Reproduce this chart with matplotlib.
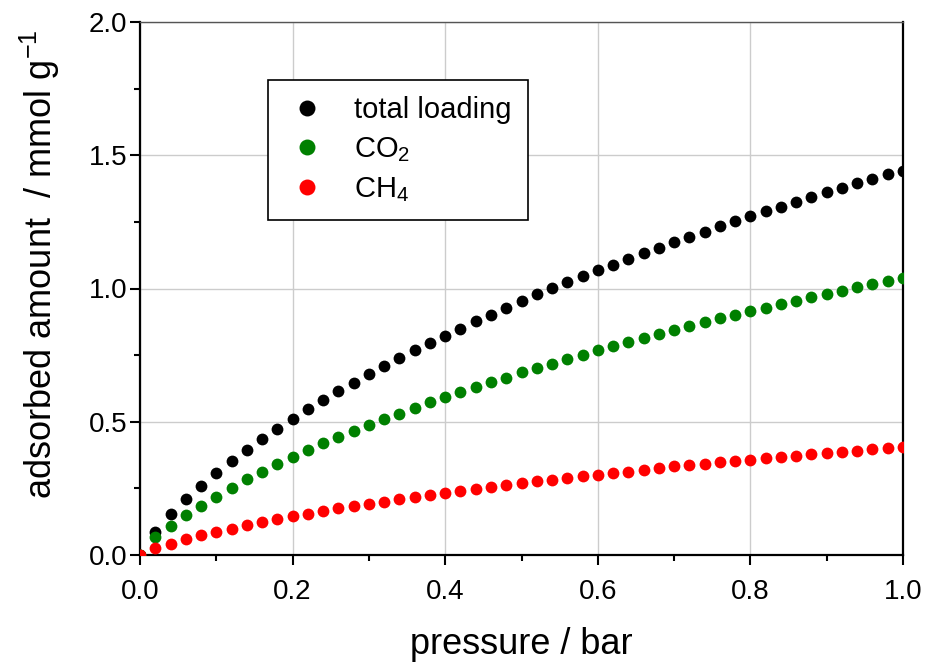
import matplotlib
matplotlib.use("Agg")
import matplotlib.pyplot as plt
from matplotlib.ticker import MultipleLocator
import numpy as np

plt.rcParams['font.family'] = ['Liberation Sans', 'DejaVu Sans']
plt.rcParams['mathtext.fontset'] = 'custom'
plt.rcParams['mathtext.rm'] = 'Liberation Sans'
plt.rcParams['mathtext.it'] = 'Liberation Sans:italic'

pressure = [0.00, 0.02, 0.04, 0.06, 0.08, 0.10, 0.12, 0.14, 0.16, 0.18,
            0.20, 0.22, 0.24, 0.26, 0.28, 0.30, 0.32, 0.34, 0.36, 0.38,
            0.40, 0.42, 0.44, 0.46, 0.48, 0.50, 0.52, 0.54, 0.56, 0.58,
            0.60, 0.62, 0.64, 0.66, 0.68, 0.70, 0.72, 0.74, 0.76, 0.78,
            0.80, 0.82, 0.84, 0.86, 0.88, 0.90, 0.92, 0.94, 0.96, 0.98, 1.00]

total = [0.000, 0.087, 0.153, 0.209, 0.259, 0.307, 0.352, 0.394, 0.434, 0.473,
         0.510, 0.547, 0.580, 0.614, 0.647, 0.678, 0.709, 0.738, 0.768, 0.794,
         0.822, 0.849, 0.877, 0.902, 0.927, 0.952, 0.978, 1.001, 1.023, 1.047,
         1.069, 1.089, 1.112, 1.132, 1.153, 1.173, 1.193, 1.213, 1.233, 1.253,
         1.271, 1.290, 1.307, 1.326, 1.342, 1.361, 1.378, 1.396, 1.412, 1.429, 1.442]

co2 = [0.000, 0.066, 0.110, 0.149, 0.185, 0.219, 0.253, 0.284, 0.313, 0.340,
       0.367, 0.393, 0.419, 0.442, 0.464, 0.488, 0.509, 0.530, 0.552, 0.573,
       0.593, 0.612, 0.632, 0.649, 0.666, 0.685, 0.702, 0.718, 0.735, 0.752,
       0.768, 0.783, 0.799, 0.814, 0.830, 0.844, 0.859, 0.873, 0.888, 0.902,
       0.914, 0.927, 0.942, 0.954, 0.968, 0.980, 0.992, 1.006, 1.017, 1.028, 1.041]

ch4 = [0.000, 0.025, 0.042, 0.059, 0.074, 0.086, 0.099, 0.111, 0.124, 0.134,
       0.145, 0.155, 0.165, 0.175, 0.184, 0.193, 0.200, 0.209, 0.218, 0.225,
       0.233, 0.240, 0.248, 0.255, 0.262, 0.269, 0.276, 0.283, 0.288, 0.295,
       0.301, 0.306, 0.313, 0.318, 0.328, 0.333, 0.338, 0.343, 0.349, 0.353,
       0.358, 0.363, 0.368, 0.373, 0.378, 0.384, 0.388, 0.391, 0.397, 0.401, 0.406]

labels = ["total loading", "CO$_2$", "CH$_4$"]
colors = ["black", "#008000", "#ff0000"]

fig = plt.figure(figsize=(9.26, 6.62), dpi=100)
ax = fig.add_axes([140/926, 1-555/662, (903-140)/926, (555-22)/662])

for y, lab, c in zip([total, co2, ch4], labels, colors):
    ax.plot(pressure, y, linestyle='none', marker='o', markersize=8.5,
            color=c, markeredgewidth=0, label=lab, clip_on=True, zorder=3)

ax.set_xlim(0, 1.0)
ax.set_ylim(0, 2.0)
ax.xaxis.set_minor_locator(MultipleLocator(0.1))
ax.yaxis.set_minor_locator(MultipleLocator(0.25))
ax.set_xticks([0.0, 0.2, 0.4, 0.6, 0.8, 1.0])
ax.set_xticklabels(["0.0", "0.2", "0.4", "0.6", "0.8", "1.0"])
ax.set_yticks([0.0, 0.5, 1.0, 1.5, 2.0])
ax.set_yticklabels(["0.0", "0.5", "1.0", "1.5", "2.0"])

ax.grid(True, which='major', color='#cccccc', linewidth=1.0, zorder=0)
ax.set_axisbelow(True)

ax.tick_params(axis='both', which='major', direction='out', length=7, width=1.5,
               labelsize=20, top=False, right=False)
ax.tick_params(axis='x', which='major', pad=10)
ax.tick_params(axis='y', which='major', pad=2)
ax.tick_params(axis='both', which='minor', direction='out', length=4, width=1.5,
               top=False, right=False)

for s in ['left', 'bottom', 'right']:
    ax.spines[s].set_linewidth(1.6)
    ax.spines[s].set_color('black')
ax.spines['top'].set_linewidth(1.0)
ax.spines['top'].set_color('#555555')

ax.set_xlabel("pressure / bar", fontsize=26, labelpad=16)
ax.set_ylabel("adsorbed amount  / mmol g$^{-1}$", fontsize=26)
ax.yaxis.set_label_coords(-0.102, 0.545)

leg = ax.legend(loc='upper left', bbox_to_anchor=((268-140)/763, (555-80)/533),
                fontsize=21, frameon=True, fancybox=False, edgecolor='black',
                framealpha=1, handletextpad=0.8, borderpad=0.55, labelspacing=0.38,
                handlelength=1.6, borderaxespad=0, markerscale=1.35)
leg.get_frame().set_linewidth(1.2)

fig.savefig("out.png", dpi=100)
